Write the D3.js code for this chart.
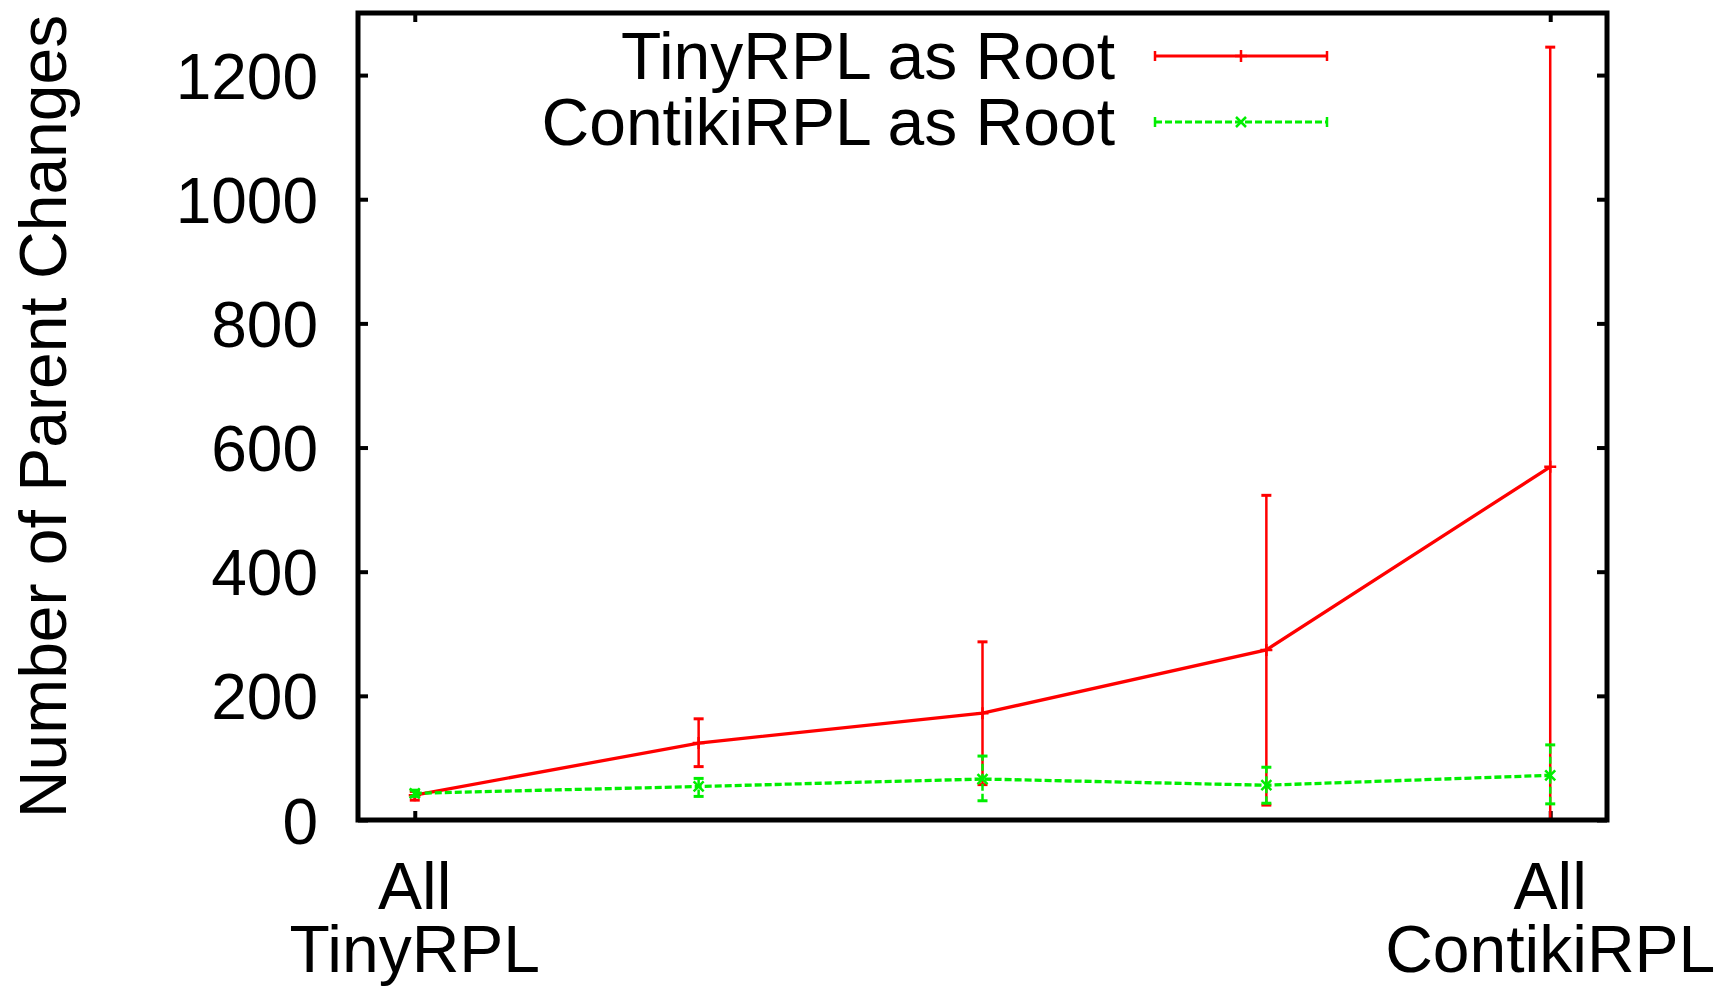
<!DOCTYPE html>
<html>
<head>
<meta charset="utf-8">
<script src="https://cdn.jsdelivr.net/npm/d3@7"></script>
<style>
  html, body { margin: 0; padding: 0; background: #fff; }
  text { font-family: "Liberation Sans", Arial, Helvetica, sans-serif; fill: #000; }
</style>
</head>
<body>
<div id="chart"></div>
<script>
// Dados
const xPositions = [0, 1, 2, 3, 4];
const tinyMean = [40, 124, 172, 274, 569];
const tinyLow = [32, 86, 57, 24, 0];
const tinyHigh = [46, 163, 287, 523, 1245];
const contikiMean = [43, 54, 66, 56, 72];
const contikiLow = [38, 38, 31, 27, 26];
const contikiHigh = [48, 67, 103, 85, 121];
const yTicks = [0, 200, 400, 600, 800, 1000, 1200];
const xTickLabels = [
    { x: 0, lines: ["All", "TinyRPL"] },
    { x: 4, lines: ["All", "ContikiRPL"] }
];
const seriesNames = ["TinyRPL as Root", "ContikiRPL as Root"];

const W = 1717, H = 987;
const margin = { top: 13, right: 110, bottom: 167, left: 358 };
const width = W - margin.left - margin.right;
const height = H - margin.top - margin.bottom;

const svg = d3.select("#chart")
    .append("svg")
    .attr("width", W)
    .attr("height", H);

const g = svg.append("g")
    .attr("transform", `translate(${margin.left},${margin.top})`);

// Escalas
const x = d3.scaleLinear().domain([-0.2, 4.2]).range([0, width]);
const y = d3.scaleLinear().domain([0, 1300]).range([height, 0]);

// Eixo Y (esquerda com labels, direita espelhada)
const yAxis = g.append("g")
    .call(d3.axisLeft(y).tickValues(yTicks).tickSize(-10).tickPadding(40).tickFormat(d3.format("d")));
yAxis.select(".domain").remove();
yAxis.selectAll("line").attr("stroke", "#000").attr("stroke-width", 4);
yAxis.selectAll("text").attr("font-size", 64).attr("dy", "0.36em");

const yAxisR = g.append("g")
    .attr("transform", `translate(${width},0)`)
    .call(d3.axisRight(y).tickValues(yTicks).tickSize(-10).tickFormat(""));
yAxisR.select(".domain").remove();
yAxisR.selectAll("line").attr("stroke", "#000").attr("stroke-width", 4);

// Eixo X (ticks só nas extremidades)
const xAxis = g.append("g")
    .attr("transform", `translate(0,${height})`)
    .call(d3.axisBottom(x).tickValues([0, 4]).tickSize(-9).tickFormat(""));
xAxis.select(".domain").remove();
xAxis.selectAll("line").attr("stroke", "#000").attr("stroke-width", 4);

const xAxisT = g.append("g")
    .call(d3.axisTop(x).tickValues([0, 4]).tickSize(-9).tickFormat(""));
xAxisT.select(".domain").remove();
xAxisT.selectAll("line").attr("stroke", "#000").attr("stroke-width", 4);

// Labels do eixo X em duas linhas
xTickLabels.forEach(d => {
    const t = g.append("text")
        .attr("x", x(d.x))
        .attr("y", height + 89)
        .attr("text-anchor", "middle")
        .attr("font-size", 66);
    d.lines.forEach((l, i) => {
        t.append("tspan")
            .attr("x", x(d.x))
            .attr("dy", i === 0 ? 0 : 63)
            .text(l);
    });
});

// Label do eixo Y
svg.append("text")
    .attr("transform", `translate(66,${margin.top + height / 2}) rotate(-90)`)
    .attr("text-anchor", "middle")
    .attr("font-size", 66)
    .text("Number of Parent Changes");

// Séries
function drawSeries(mean, low, high, color, dash, marker) {
    const s = g.append("g");
    const line = d3.line().x((d, i) => x(xPositions[i])).y(d => y(d));

    // barras de erro
    xPositions.forEach((p, i) => {
        s.append("line")
            .attr("x1", x(p)).attr("x2", x(p))
            .attr("y1", y(low[i])).attr("y2", y(high[i]))
            .attr("stroke", color).attr("stroke-width", 2.5)
            .attr("stroke-dasharray", dash);
        [low[i], high[i]].forEach(v => {
            s.append("line")
                .attr("x1", x(p) - 5).attr("x2", x(p) + 5)
                .attr("y1", y(v)).attr("y2", y(v))
                .attr("stroke", color).attr("stroke-width", 3);
        });
    });

    s.append("path")
        .datum(mean)
        .attr("d", line)
        .attr("fill", "none")
        .attr("stroke", color)
        .attr("stroke-width", 3.3)
        .attr("stroke-dasharray", dash);

    mean.forEach((v, i) => marker(s, x(xPositions[i]), y(v)));
}

function plusMarker(sel, cx, cy, color) {
    sel.append("path")
        .attr("d", `M${cx - 6},${cy}H${cx + 6}M${cx},${cy - 6}V${cy + 6}`)
        .attr("stroke", color).attr("stroke-width", 2.5).attr("fill", "none");
}
function crossMarker(sel, cx, cy, color) {
    sel.append("path")
        .attr("d", `M${cx - 5},${cy - 5}L${cx + 5},${cy + 5}M${cx - 5},${cy + 5}L${cx + 5},${cy - 5}`)
        .attr("stroke", color).attr("stroke-width", 2.5).attr("fill", "none");
}

const red = "#ff0000", green = "#00ee00";
drawSeries(tinyMean, tinyLow, tinyHigh, red, null, (s, cx, cy) => plusMarker(s, cx, cy, red));
drawSeries(contikiMean, contikiLow, contikiHigh, green, "7,3", (s, cx, cy) => crossMarker(s, cx, cy, green));

// Legenda
const legend = svg.append("g");
const legendRows = [
    { name: seriesNames[0], color: red, dash: null, y: 56, marker: plusMarker },
    { name: seriesNames[1], color: green, dash: "7,3", y: 122, marker: crossMarker }
];
legendRows.forEach(r => {
    legend.append("text")
        .attr("x", 1115)
        .attr("y", r.y + 23)
        .attr("text-anchor", "end")
        .attr("font-size", 66)
        .text(r.name);
    legend.append("line")
        .attr("x1", 1155).attr("x2", 1327)
        .attr("y1", r.y).attr("y2", r.y)
        .attr("stroke", r.color).attr("stroke-width", 3)
        .attr("stroke-dasharray", r.dash);
    [1155, 1327].forEach(px => {
        legend.append("line")
            .attr("x1", px).attr("x2", px)
            .attr("y1", r.y - 5).attr("y2", r.y + 5)
            .attr("stroke", r.color).attr("stroke-width", 2.5);
    });
    r.marker(legend, 1241, r.y, r.color);
});

// Moldura
g.append("rect")
    .attr("x", 0).attr("y", 0)
    .attr("width", width).attr("height", height)
    .attr("fill", "none")
    .attr("stroke", "#000")
    .attr("stroke-width", 5);
</script>
</body>
</html>
